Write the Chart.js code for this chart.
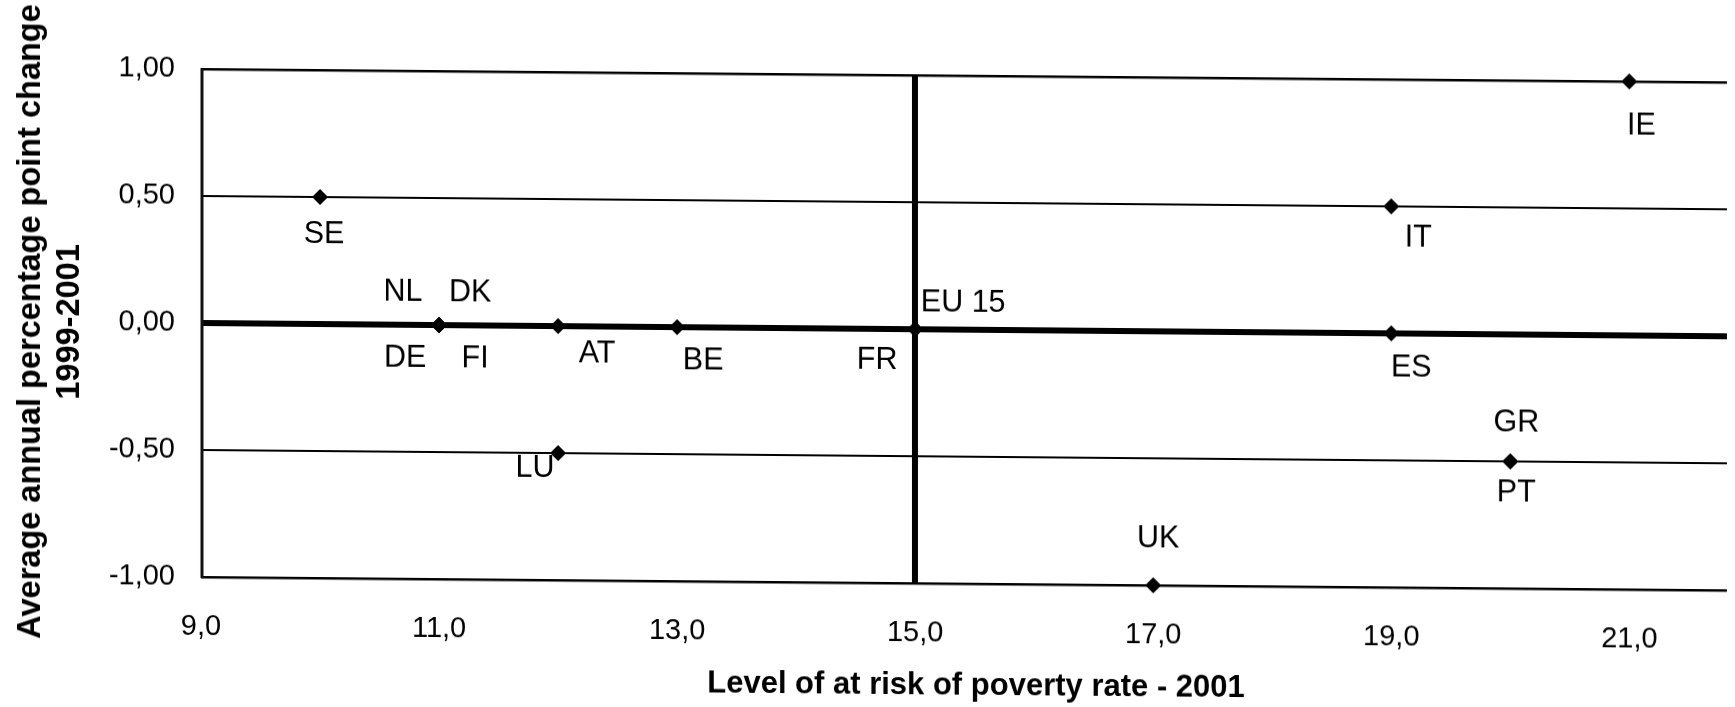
<!DOCTYPE html>
<html>
<head>
<meta charset="utf-8">
<script src="https://cdn.jsdelivr.net/npm/chart.js@4.4.1/dist/chart.umd.min.js"></script>
<style>
  html, body { margin: 0; padding: 0; background: #fff; overflow: hidden; }
  #wrap { width: 1735px; height: 707px; position: relative; }
  /* the scanned original is slightly sheared: horizontal lines drop to the right */
  canvas { display: block; transform: skewY(0.5deg); transform-origin: 201px 0; }
</style>
</head>
<body>
<div id="wrap"><canvas id="c" width="1735" height="707"></canvas></div>
<script>
// ---- data ----
const countries       = ['SE', 'NL', 'DE', 'DK', 'FI', 'AT', 'BE', 'LU', 'FR', 'EU 15', 'UK', 'IT', 'ES', 'GR', 'PT', 'IE'];
const povertyRate2001 = [10,   11,   11,   11,   11,   12,   13,   12,   15,   15,      17,   19,   19,   20,   20,   21];
const annualChange    = [0.5,  0,    0,    0,    0,    0,    0,    -0.5, 0,    0,       -1,   0.5,  0,    -0.5, -0.5, 1];
const xTickValues = [9, 11, 13, 15, 17, 19, 21];
const yTickValues = [-1, -0.5, 0, 0.5, 1];
const xAxisTitle = 'Level of at risk of poverty rate - 2001';
const yAxisTitle = ['Average annual percentage point change', '1999-2001'];

// ---- label placement (pixel offsets of each country label from its marker) ----
const labelOffsets = {
  'SE': [4, 38], 'NL': [-36, -32], 'DK': [31, -32], 'DE': [-34, 34], 'FI': [36, 34],
  'AT': [39, 28], 'BE': [26, 34], 'LU': [-23, 16], 'FR': [-38, 32], 'EU 15': [48, -26],
  'UK': [5, -46], 'IT': [27, 32], 'ES': [20, 35], 'GR': [6, -38], 'PT': [6, 32], 'IE': [12, 45]
};

const FONT = '"Liberation Sans", Arial, Helvetica, sans-serif';
const euIdx = countries.indexOf('EU 15');
const euRate = povertyRate2001[euIdx];
const euChange = annualChange[euIdx];

const points = countries.map((c, i) => ({ x: povertyRate2001[i], y: annualChange[i] }));

// left edge of the plot-area frame
const framePlugin = {
  id: 'frameLeft',
  afterDatasetsDraw(chart) {
    const { ctx, chartArea } = chart;
    ctx.save();
    ctx.strokeStyle = '#111';
    ctx.lineWidth = 3;
    ctx.beginPath();
    ctx.moveTo(chartArea.left + 1, chartArea.top - 1);
    ctx.lineTo(chartArea.left + 1, chartArea.bottom + 1);
    ctx.stroke();
    ctx.restore();
  }
};

const labelPlugin = {
  id: 'countryLabels',
  afterDatasetsDraw(chart) {
    const ctx = chart.ctx;
    const meta = chart.getDatasetMeta(0);
    ctx.save();
    ctx.font = '30.5px ' + FONT;
    ctx.fillStyle = '#000';
    ctx.textAlign = 'center';
    ctx.textBaseline = 'middle';
    meta.data.forEach((el, i) => {
      const off = labelOffsets[countries[i]] || [0, 0];
      ctx.fillText(countries[i], el.x + off[0], el.y + off[1]);
    });
    ctx.restore();
  }
};

const xTitlePlugin = {
  id: 'xTitle',
  afterDraw(chart) {
    const ctx = chart.ctx;
    ctx.save();
    ctx.font = 'bold 31px ' + FONT;
    ctx.fillStyle = '#000';
    ctx.textAlign = 'center';
    ctx.textBaseline = 'alphabetic';
    ctx.fillText(xAxisTitle, 976, 688);
    ctx.restore();
  }
};

new Chart(document.getElementById('c'), {
  type: 'scatter',
  data: {
    datasets: [{
      data: points,
      pointStyle: 'rectRot',
      pointRadius: 8,
      pointHoverRadius: 8,
      pointBackgroundColor: '#000',
      pointBorderColor: '#000',
      pointBorderWidth: 0,
      showLine: false,
      clip: false
    }]
  },
  options: {
    responsive: false,
    animation: false,
    devicePixelRatio: 1,
    layout: { padding: { top: 69, left: 0, right: 0, bottom: 0 } },
    plugins: { legend: { display: false }, tooltip: { enabled: false } },
    scales: {
      x: {
        type: 'linear',
        min: 9,
        max: 21.82,
        afterBuildTicks: s => { s.ticks = xTickValues.map(v => ({ value: v })); },
        afterFit: s => { s.height = 130; },
        border: { display: false },
        grid: {
          drawTicks: false,
          color: c => (c.tick && c.tick.value === euRate) ? '#000' : 'rgba(0,0,0,0)',
          lineWidth: c => (c.tick && c.tick.value === euRate) ? 6 : 1
        },
        ticks: {
          padding: 33,
          color: '#000',
          font: { family: FONT, size: 29 },
          maxRotation: 0,
          autoSkip: false,
          callback: v => Number(v).toFixed(1).replace('.', ',')
        },
        title: { display: false }
      },
      y: {
        type: 'linear',
        min: -1,
        max: 1,
        afterBuildTicks: s => { s.ticks = yTickValues.map(v => ({ value: v })); },
        afterFit: s => { s.width = 201; },
        border: { display: false },
        grid: {
          drawTicks: false,
          color: '#000',
          lineWidth: c => (c.tick && c.tick.value === euChange) ? 6 : (Math.abs(c.tick.value) === 1 ? 2.5 : 2)
        },
        ticks: {
          padding: 26,
          color: '#000',
          font: { family: FONT, size: 29 },
          autoSkip: false,
          callback: v => Number(v).toFixed(2).replace('.', ',')
        },
        title: {
          display: true,
          text: yAxisTitle,
          color: '#000',
          font: { family: FONT, size: 32.5, weight: 'bold' },
          padding: { top: 12, bottom: 0 }
        }
      }
    }
  },
  plugins: [framePlugin, labelPlugin, xTitlePlugin]
});
</script>
</body>
</html>
